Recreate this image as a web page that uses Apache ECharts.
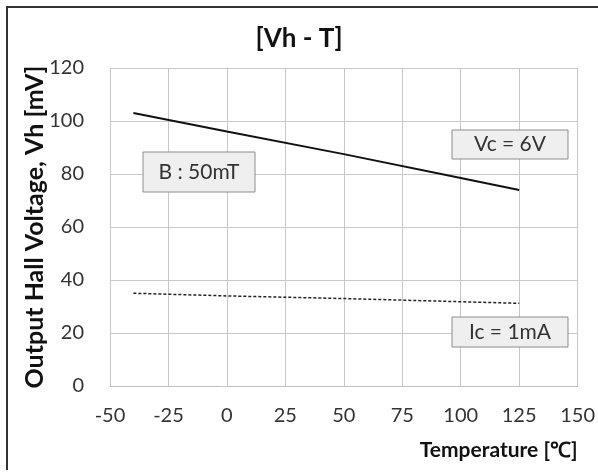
<!DOCTYPE html>
<html>
<head>
<meta charset="utf-8">
<script src="https://cdn.jsdelivr.net/npm/echarts@6/dist/echarts.min.js"></script>
<style>
  html, body { margin: 0; padding: 0; background: #fff; }
  #chart { width: 598px; height: 472px; }
</style>
</head>
<body>
<div id="chart"></div>
<script>
// temperatures [°C] and Hall voltage [mV]
const tempVc = [-40, 0, 50, 100, 125];
const vhVc = [103, 96, 87.5, 78.5, 74];
const tempIc = [-40, 0, 50, 100, 125];
const vhIc = [35, 34, 33, 31.8, 31.2];
const xTicks = [-50, -25, 0, 25, 50, 75, 100, 125, 150];
const yTicks = [0, 20, 40, 60, 80, 100, 120];

const font = 'Lato';
const chart = echarts.init(document.getElementById('chart'));

function box(x, y, w, h, txt) {
    return {
        type: 'group', x: x, y: y, z: 100,
        children: [
            { type: 'rect', z: 100, shape: { x: 0, y: 0, width: w, height: h },
              style: { fill: '#efefef', stroke: '#8c8c8c', lineWidth: 1 } },
            { type: 'text', z: 101, x: w / 2, y: h / 2,
              style: { text: txt, fontFamily: font, fontSize: 21, fill: '#333',
                       align: 'center', verticalAlign: 'middle' } }
        ]
    };
}

const option = {
    animation: false,
    backgroundColor: '#fff',
    title: {
        text: '[Vh - T]',
        left: 'center',
        top: 21,
        textStyle: { fontFamily: font, fontSize: 26, fontWeight: 'bold', color: '#111' }
    },
    grid: { left: 110, right: 20, top: 68, bottom: 86 },
    xAxis: {
        type: 'value',
        min: xTicks[0], max: xTicks[xTicks.length - 1], interval: 25,
        name: 'Temperature [\u2103]',
        nameLocation: 'end',
        nameGap: 0,
        nameTextStyle: { fontFamily: font, fontSize: 21, fontWeight: 'bold', color: '#111',
                         align: 'right', verticalAlign: 'top', padding: [54, 0, 0, 0] },
        axisLine: { show: true, lineStyle: { color: '#bdbdbd', width: 1 } },
        axisTick: { show: false },
        axisLabel: { fontFamily: font, fontSize: 20, color: '#333', margin: 20 },
        splitLine: { show: true, interval: 1, lineStyle: { color: '#c8c8c8', width: 1 } }
    },
    yAxis: {
        type: 'value',
        min: yTicks[0], max: yTicks[yTicks.length - 1], interval: 20,
        name: 'Output Hall Voltage, Vh [mV]',
        nameLocation: 'middle',
        nameGap: 63,
        nameMoveOverlap: false,
        nameTextStyle: { fontFamily: font, fontSize: 25, fontWeight: 'bold', color: '#111' },
        axisLine: { show: true, lineStyle: { color: '#c8c8c8', width: 1 } },
        axisTick: { show: true, length: 8, lineStyle: { color: '#c8c8c8' } },
        axisLabel: { fontFamily: font, fontSize: 20, color: '#333', margin: 26 },
        splitLine: { show: true, lineStyle: { color: '#c8c8c8', width: 1 } }
    },
    series: [
        {
            name: 'Vc = 6V',
            type: 'line',
            data: tempVc.map((t, i) => [t, vhVc[i]]),
            symbol: 'none',
            lineStyle: { color: '#111', width: 2 }
        },
        {
            name: 'Ic = 1mA',
            type: 'line',
            data: tempIc.map((t, i) => [t, vhIc[i]]),
            symbol: 'none',
            lineStyle: { color: '#222', width: 1.5, type: [3, 2] }
        }
    ],
    graphic: [
        { type: 'polyline', shape: { points: [[7, 470], [7, 7], [598, 7]] },
          style: { stroke: '#333', lineWidth: 2, fill: null } },
        box(143, 152, 112, 40, 'B : 50mT'),
        box(452, 130, 116, 29, 'Vc = 6V'),
        box(452, 317, 116, 30, 'Ic = 1mA')
    ]
};

chart.setOption(option);
</script>
</body>
</html>
